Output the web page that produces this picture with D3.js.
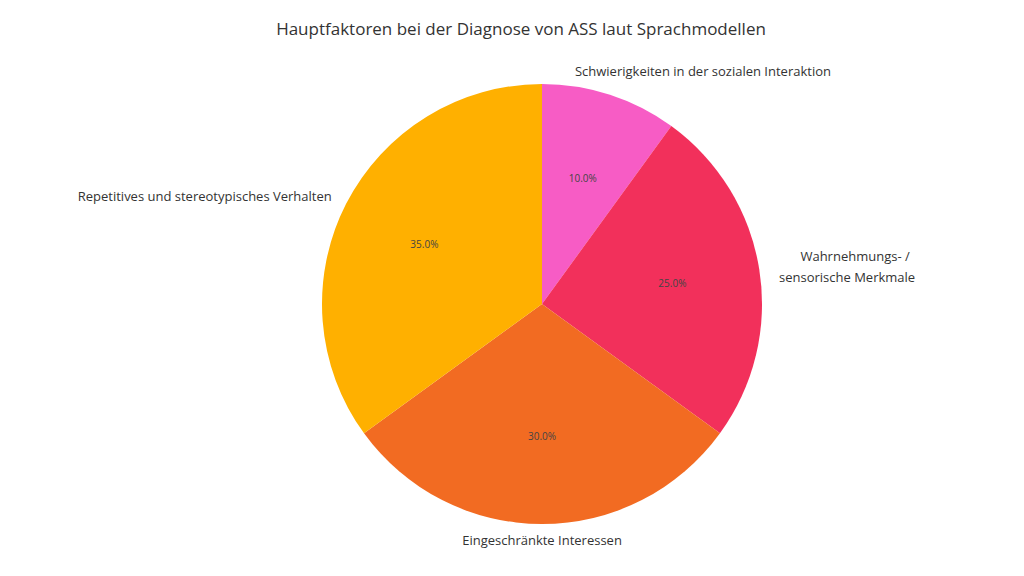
<!DOCTYPE html>
<html><head><meta charset="utf-8">
<script src="https://cdn.jsdelivr.net/npm/d3@7"></script>
<style>body{margin:0;background:#fff}text{font-family:"Open Sans",sans-serif}</style>
</head><body><svg id="c" width="1024" height="576"></svg>
<script>
const categories=["Schwierigkeiten in der sozialen Interaktion","Wahrnehmungs- /\nsensorische Merkmale","Eingeschränkte Interessen","Repetitives und stereotypisches Verhalten"];
const values=[10,25,30,35];
const colors=["#F75CC5","#F2305B","#F26B22","#FFB000"];
const svg=d3.select("#c");
const cx=542,cy=304,r=220;
svg.append("text").attr("x",521).attr("y",35).attr("text-anchor","middle").attr("font-size",17).attr("fill","#333").text("Hauptfaktoren bei der Diagnose von ASS laut Sprachmodellen");
const pie=d3.pie().sort(null).value(d=>d)(values);
const arc=d3.arc().innerRadius(0).outerRadius(r);
const g=svg.append("g").attr("transform",`translate(${cx},${cy})`);
g.selectAll("path").data(pie).join("path").attr("d",arc).attr("fill",(d,i)=>colors[i]);
const total=d3.sum(values);
const inner=d3.arc().innerRadius(r*0.6).outerRadius(r*0.6);
g.selectAll(".p").data(pie).join("text").attr("transform",d=>`translate(${inner.centroid(d)})`)
 .attr("text-anchor","middle").attr("dy","0.35em").attr("font-size",10).attr("fill","#444")
 .text(d=>(d.value/total*100).toFixed(1)+"%");
pie.forEach((d,i)=>{
  const a=(d.startAngle+d.endAngle)/2, R=r+16;
  let x=R*Math.sin(a), y=-R*Math.cos(a);
  let anchor=Math.abs(Math.sin(a))<0.05?"middle":(Math.sin(a)>0?"start":"end");
  if(i===0){x-=40;y-=8;}
  const lines=categories[i].split("\n");
  const t=g.append("text").attr("text-anchor",anchor).attr("font-size",13).attr("fill","#333");
  lines.forEach((l,k)=>t.append("tspan").attr("x",x+(lines.length>1&&k===0?8:0)).attr("y",y+(k-(lines.length-1)/2)*21).attr("dy","0.35em").attr("text-anchor",lines.length>1?"middle":anchor).attr("dx",lines.length>1?72:0).text(l));
});
</script></body></html>
